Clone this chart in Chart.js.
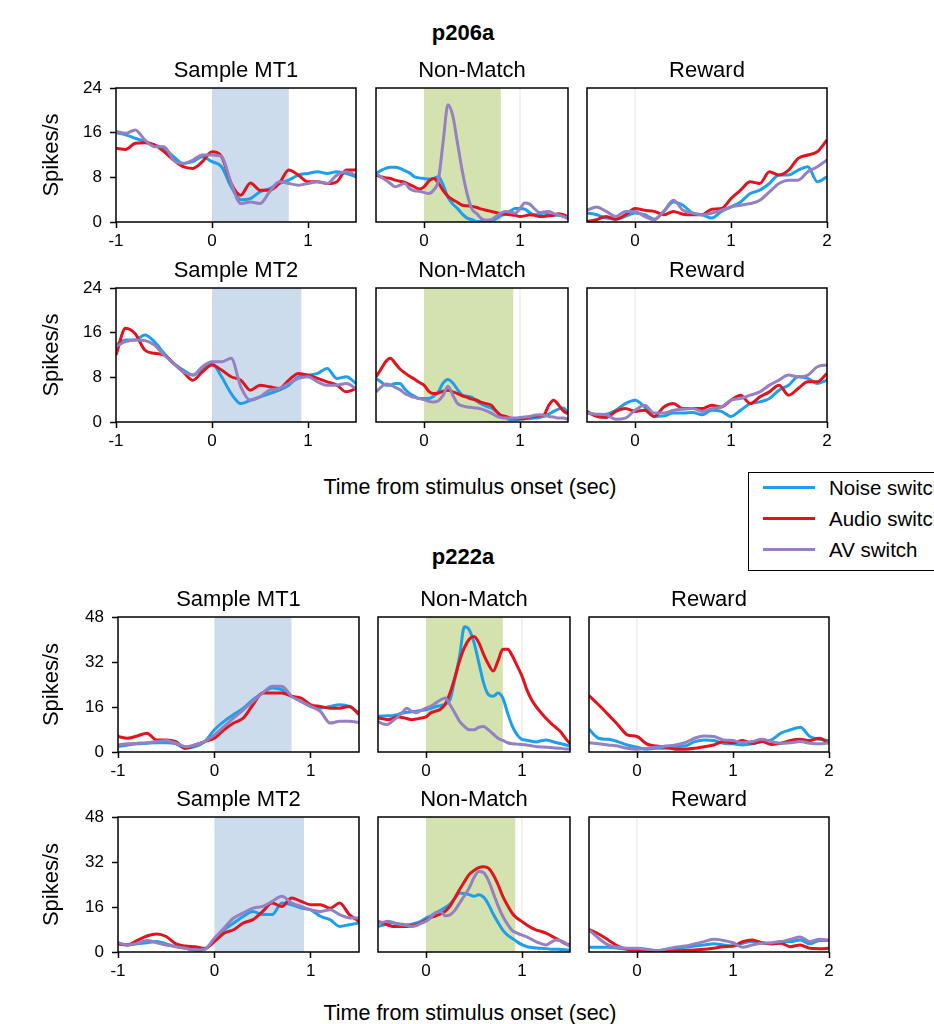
<!DOCTYPE html>
<html>
<head>
<meta charset="utf-8">
<script src="https://cdn.jsdelivr.net/npm/chart.js@4.4.1/dist/chart.umd.min.js"></script>
<style>
body { margin:0; width:934px; height:1024px; overflow:hidden; background:#fff; position:relative;
       font-family:"Liberation Sans", Arial, sans-serif; color:#000; }
canvas { position:absolute; }
.lbl { position:absolute; text-align:center; white-space:nowrap; }
.ptitle { font-size:22px; line-height:26px; width:240px; }
.group { font-size:22px; line-height:26px; font-weight:bold; width:200px; }
.xlab { font-size:21.5px; line-height:26px; width:500px; }
#legend { position:absolute; left:748px; top:472px; width:240px; height:97px; border:1.5px solid #000; background:#fff; }
#legend .row { position:absolute; left:0; height:26px; width:240px; }
#legend .sw { position:absolute; left:14px; top:11px; width:52px; height:3px; }
#legend .tx { position:absolute; left:80px; top:0; font-size:20.5px; line-height:26px; white-space:nowrap; }
</style>
</head>
<body>
<div class="lbl group" style="left:363px; top:20px;">p206a</div>
<div class="lbl group" style="left:363px; top:544px;">p222a</div>
<div class="lbl xlab" style="left:220px; top:474px;">Time from stimulus onset (sec)</div>
<div class="lbl xlab" style="left:220px; top:1000px;">Time from stimulus onset (sec)</div>
<div id="legend"></div>
<script>
// time axes
const xSample = [-1,-0.9,-0.8,-0.7,-0.6,-0.5,-0.4,-0.3,-0.2,-0.1,0,0.1,0.2,0.3,0.4,0.5,0.6,0.7,0.8,0.9,1,1.1,1.2,1.3,1.4,1.5];
const xNonMatch = [-0.5,-0.45,-0.4,-0.35,-0.3,-0.25,-0.2,-0.15,-0.1,-0.05,0,0.05,0.1,0.15,0.2,0.25,0.3,0.35,0.4,0.45,
                   0.5,0.55,0.6,0.65,0.7,0.75,0.8,0.85,0.9,0.95,1,1.05,1.1,1.15,1.2,1.25,1.3,1.35,1.4,1.45,1.5];
const xReward = [-0.5,-0.4,-0.3,-0.2,-0.1,0,0.1,0.2,0.3,0.4,0.5,0.6,0.7,0.8,0.9,1,1.1,1.2,1.3,1.4,1.5,1.6,1.7,1.8,1.9,2];

const yTicksTop = [0, 8, 16, 24];
const yTicksBottom = [0, 16, 32, 48];
const seriesNames = ['Noise switch', 'Audio switch', 'AV switch'];
const seriesColors = ['#1e9fea', '#e0141e', '#9480c2'];

// p206a
const p206_mt1_noise = [16.0,15.6,15.0,14.4,13.8,13.2,11.7,10.5,10.8,11.7,10.8,9.9,6.3,4.0,4.2,5.4,6.0,6.9,7.5,8.4,8.7,9.0,8.7,9.0,8.7,8.1];
const p206_mt1_audio = [13.2,13.0,14.1,14.2,13.8,12.6,11.1,9.9,9.6,10.8,12.6,11.7,6.9,4.8,7.0,5.7,5.7,6.9,9.3,8.4,7.2,7.2,6.9,7.2,9.3,9.3];
const p206_mt1_av    = [16.2,15.9,16.5,14.7,13.5,13.5,11.1,10.5,11.1,12.0,12.0,11.7,6.9,3.3,3.6,3.3,5.4,7.2,6.9,6.6,6.9,7.2,6.9,8.4,9.0,8.4];

const p206_nm1_noise = [8.7,9.2,9.6,9.8,9.8,9.6,9.2,8.8,8.1,7.9, 7.8,7.7,7.8,8.1,6.6,4.4,3.2,2.4,1.4,0.7,
                        0.4,0.1,0.1,0.1,0.2,0.6,1.1,1.4,2.0,2.4, 2.4,2.3,1.7,1.3,1.4,1.6,1.3,1.2,1.2,1.0, 0.6];
const p206_nm1_audio = [8.4,8.1,7.9,7.8,7.5,7.3,7.1,6.7,6.3,5.9, 6.3,7.3,7.8,7.0,5.6,4.6,4.0,3.5,3.0,2.9,
                        2.8,2.6,2.3,2.1,1.9,1.7,1.5,1.4,1.3,1.2, 1.0,1.1,1.3,1.2,1.0,1.0,1.1,1.2,1.5,1.3, 0.9];
const p206_nm1_av    = [8.7,8.1,7.5,6.9,6.3,6.6,6.9,6.0,5.6,5.5, 5.3,5.1,5.7,7.5,14.5,21.0,19.0,14.0,9.0,5.0,
                        2.3,1.5,0.6,0.3,0.4,1.0,1.6,1.9,1.8,1.6, 2.4,3.4,3.2,2.4,1.7,1.8,1.9,1.5,1.3,1.0, 0.7];

const p206_rw1_noise = [1.6,1.3,0.7,0.5,1.0,1.6,1.3,0.5,1.9,3.6,3.0,1.6,1.3,0.7,1.9,2.7,3.6,5.1,5.7,6.9,8.4,8.4,9.3,9.9,7.2,8.1];
const p206_rw1_audio = [0.1,0.4,1.0,0.5,1.3,2.4,2.1,1.9,1.3,1.9,1.4,1.3,1.3,2.3,2.4,4.2,5.7,7.2,6.9,9.0,8.4,9.3,11.4,12.0,12.6,14.7];
const p206_rw1_av    = [2.1,2.7,1.9,1.0,1.9,1.9,1.0,0.4,1.9,3.9,2.1,1.6,1.3,1.6,2.1,2.7,3.0,3.3,3.9,5.4,6.9,7.5,7.5,9.0,9.9,11.1];

const p206_mt2_noise = [13.8,14.7,14.7,15.6,14.4,12.3,10.5,9.3,8.4,9.6,10.5,8.1,5.1,3.3,3.9,4.5,5.1,5.7,6.6,8.1,8.4,8.7,9.6,7.8,8.1,6.9];
const p206_mt2_audio = [12.0,16.8,15.8,12.9,12.3,12.0,10.5,9.0,7.5,9.0,10.2,9.3,8.1,7.5,5.7,6.6,6.3,6.0,7.5,8.7,8.4,7.8,7.2,6.6,5.4,6.0];
const p206_mt2_av    = [13.5,14.4,14.7,14.6,13.8,12.0,10.5,9.0,8.4,9.9,10.8,10.8,11.4,6.3,3.9,4.5,5.7,6.0,6.9,7.8,8.1,7.2,6.6,6.6,6.9,6.0];

const p206_nm2_noise = [7.8,7.2,6.6,6.6,6.9,6.9,5.9,5.1,4.6,4.2, 4.2,4.2,4.6,5.4,7.0,7.6,7.0,5.8,4.8,4.6,
                        4.4,3.7,3.2,2.8,2.5,1.9,1.2,0.8,0.4,0.4, 0.5,0.6,0.6,0.7,0.8,1.0,1.4,1.9,2.3,2.5, 1.6];
const p206_nm2_audio = [8.1,9.4,10.8,11.4,10.5,9.5,8.8,8.2,7.7,7.1, 6.6,5.5,5.1,5.2,5.5,5.7,5.4,5.1,4.7,4.4,
                        4.1,3.9,3.5,3.3,3.0,2.0,1.2,1.0,0.7,0.6, 0.6,0.6,0.9,1.0,1.1,1.3,3.0,3.9,3.1,2.0, 1.5];
const p206_nm2_av    = [5.4,6.2,6.8,6.7,6.2,5.8,5.1,4.7,4.4,4.2, 4.0,3.7,3.6,3.8,4.8,6.4,4.8,3.3,2.9,2.7,
                        2.6,2.5,2.3,2.0,1.6,1.1,0.8,0.7,0.7,0.7, 0.8,0.9,1.0,1.2,1.3,1.2,1.0,0.9,0.7,0.7, 0.5];

const p206_rw2_noise = [1.6,1.3,1.4,2.1,3.3,3.9,2.7,1.0,1.1,1.6,1.6,1.7,1.3,2.1,1.9,1.0,2.1,3.3,3.6,4.2,5.7,6.6,8.1,7.8,6.9,7.5];
const p206_rw2_audio = [1.9,1.0,0.8,1.9,2.4,1.9,2.1,1.0,2.7,3.3,2.4,2.4,2.4,3.0,2.7,3.9,4.8,3.3,4.5,5.4,6.6,4.8,6.0,7.2,7.2,8.7];
const p206_rw2_av    = [1.6,1.4,1.3,0.5,0.7,2.1,3.0,1.6,1.6,2.1,2.3,2.4,1.9,2.4,2.7,3.9,4.2,4.8,5.4,6.6,7.5,8.4,8.1,8.4,9.9,10.2];

// p222a
const p222_mt1_noise = [1.9,2.5,2.9,3.1,3.3,3.3,2.9,1.3,1.9,3.7,7.9,10.9,13.3,15.6,18.6,21.0,22.8,22.2,19.8,18.0,16.2,15.6,16.2,16.8,16.2,13.9];
const p222_mt1_audio = [5.5,4.9,5.7,6.7,4.3,4.3,3.7,1.3,2.5,3.7,4.9,7.9,10.3,12.1,16.8,21.0,21.0,21.0,19.8,19.2,16.8,16.2,15.6,15.6,16.2,13.3];
const p222_mt1_av    = [2.5,2.9,3.1,3.3,3.7,4.1,3.1,1.9,2.5,3.7,6.1,9.1,12.1,15.0,18.0,21.0,23.4,23.4,19.8,18.0,16.2,14.4,10.3,10.9,10.9,10.5];

const p222_nm1_noise = [12.7,12.8,12.9,12.9,13.3,13.8,14.1,14.3,14.5,14.8, 15.0,15.5,16.1,16.5,17.0,18.6,25.8,34.1,44.5,43.5,
                        38.9,31.8,24.6,20.4,19.8,21.0,19.2,13.9,9.1,6.1, 4.5,4.2,3.8,3.6,4.0,4.3,3.9,3.4,3.0,2.6, 2.1];
const p222_nm1_audio = [12.1,11.8,11.5,11.8,12.5,12.3,11.9,11.5,11.7,12.1, 12.5,13.9,14.5,15.2,17.0,21.0,26.4,32.4,37.1,40.1,
                        41.1,38.9,34.7,31.2,28.8,32.4,36.5,36.5,34.1,30.6, 27.0,22.2,18.6,16.0,13.9,12.0,10.3,8.8,7.3,5.0, 2.9];
const p222_nm1_av    = [10.9,10.0,9.8,11.0,12.3,14.0,15.6,14.5,14.0,14.8, 15.6,16.3,17.4,18.5,19.2,16.8,13.9,10.9,9.1,7.9,
                        7.9,8.8,9.1,7.9,6.4,4.9,4.1,3.3,2.9,2.8, 2.7,2.5,2.2,1.9,1.8,1.7,1.6,1.4,1.3,1.1, 1.0];

const p222_rw1_noise = [8.1,4.9,4.5,3.7,2.5,1.7,1.0,1.3,1.3,1.9,2.1,3.7,4.3,4.1,3.1,2.9,2.5,2.9,3.7,4.3,6.7,7.9,8.8,5.5,4.5,4.1];
const p222_rw1_audio = [20.1,16.8,13.3,9.7,6.1,5.5,2.9,2.1,1.7,1.0,1.0,1.3,1.9,2.5,3.7,3.3,4.1,3.1,3.7,2.7,3.1,4.1,4.5,4.1,4.9,3.1];
const p222_rw1_av    = [3.3,2.9,2.5,2.1,1.3,1.0,1.3,1.7,2.1,2.5,3.3,4.9,5.7,5.5,4.3,4.1,3.3,3.7,4.5,3.7,3.1,3.3,3.7,3.1,2.9,3.3];

const p222_mt2_noise = [2.9,2.5,2.9,3.3,3.7,2.9,1.9,1.3,0.7,1.0,4.3,7.9,10.3,12.7,14.4,13.3,13.3,17.4,16.8,15.6,15.0,12.7,11.5,9.1,9.7,10.3];
const p222_mt2_audio = [2.9,2.5,4.1,5.7,6.4,5.5,2.9,2.1,1.9,1.3,3.7,6.7,7.9,10.3,11.5,14.4,17.4,16.2,19.2,18.0,16.8,16.8,15.6,17.4,13.3,10.9];
const p222_mt2_av    = [3.3,2.5,3.1,4.1,3.3,2.5,1.9,1.3,0.7,1.0,4.9,8.5,12.1,13.9,15.6,16.2,18.0,19.8,17.4,16.2,15.0,14.4,15.0,13.3,12.1,12.1];

const p222_nm2_noise = [9.1,9.5,10.0,10.3,10.1,9.9,9.7,9.9,10.3,11.0, 12.1,12.8,13.9,14.8,15.8,17.0,19.0,21.0,20.8,20.4,
                        19.8,20.4,19.5,17.0,13.5,10.5,7.8,6.0,4.8,3.6, 2.6,1.9,1.6,1.4,1.3,1.2,1.0,1.0,0.9,0.8, 0.7];
const p222_nm2_audio = [10.9,10.3,9.6,9.1,9.1,9.1,9.1,9.3,9.7,10.4, 11.3,12.2,12.8,13.5,14.5,16.3,19.2,22.2,25.0,27.6,
                        29.0,30.0,30.3,29.8,27.5,24.0,19.8,16.5,13.7,12.0, 10.8,9.6,8.6,7.8,7.3,6.7,5.8,4.9,4.0,3.0, 2.5];
const p222_nm2_av    = [10.3,10.6,10.9,10.6,10.0,9.7,9.4,9.1,9.4,10.2, 10.9,12.3,13.9,14.4,12.9,13.2,14.8,17.4,20.0,22.8,
                        26.5,28.6,28.2,25.5,21.0,16.5,12.7,9.8,7.6,6.7, 6.0,5.4,4.5,3.6,3.0,2.5,3.4,4.3,4.0,3.2, 1.9];

const p222_rw2_noise = [1.7,1.7,1.7,1.3,1.0,1.0,0.7,0.5,0.7,1.0,1.7,2.1,2.5,2.9,2.5,2.1,3.1,3.7,3.3,2.9,3.7,3.7,4.3,2.9,4.1,4.1];
const p222_rw2_audio = [8.1,6.4,4.3,2.1,1.0,0.7,0.5,0.2,0.2,0.4,0.5,0.7,1.0,1.3,1.9,2.1,3.7,4.3,3.3,2.9,3.1,1.9,2.5,1.3,1.2,1.3];
const p222_rw2_av    = [7.9,4.9,2.5,1.7,1.3,1.3,1.0,0.5,1.0,1.7,2.1,2.9,3.7,4.5,4.1,3.3,1.7,2.5,3.1,3.3,3.7,4.5,5.3,3.7,4.5,4.3];

// stimulus windows (sec)
const windowShort = 0.8;
const windowLong = 0.93;

Chart.defaults.font.family = '"Liberation Sans", Arial, sans-serif';
Chart.defaults.color = '#000';

const kinds = {
  sample:   { xs: xSample,   min: -1,   max: 1.5, xticks: [-1, 0, 1],   yAxis: true,  bandColor: '#ccdcec', guide: null },
  nonmatch: { xs: xNonMatch, min: -0.5, max: 1.5, xticks: [0, 1],       yAxis: false, bandColor: '#d4e2b0', guide: 1 },
  reward:   { xs: xReward,   min: -0.5, max: 2,   xticks: [0, 1, 2],    yAxis: false, bandColor: null,      guide: 0 }
};

const panels = [
  { kind:'sample',   title:'Sample MT1', left:116, top:88,  w:240, h:134, ymax:24, yticks:yTicksTop, band:windowShort, series:[p206_mt1_noise, p206_mt1_audio, p206_mt1_av] },
  { kind:'nonmatch', title:'Non-Match',  left:376, top:88,  w:192, h:134, ymax:24, yticks:yTicksTop, band:windowShort, series:[p206_nm1_noise, p206_nm1_audio, p206_nm1_av] },
  { kind:'reward',   title:'Reward',     left:587, top:88,  w:240, h:134, ymax:24, yticks:yTicksTop, band:null,        series:[p206_rw1_noise, p206_rw1_audio, p206_rw1_av] },
  { kind:'sample',   title:'Sample MT2', left:116, top:288, w:240, h:134, ymax:24, yticks:yTicksTop, band:windowLong,  series:[p206_mt2_noise, p206_mt2_audio, p206_mt2_av] },
  { kind:'nonmatch', title:'Non-Match',  left:376, top:288, w:192, h:134, ymax:24, yticks:yTicksTop, band:windowLong,  series:[p206_nm2_noise, p206_nm2_audio, p206_nm2_av] },
  { kind:'reward',   title:'Reward',     left:587, top:288, w:240, h:134, ymax:24, yticks:yTicksTop, band:null,        series:[p206_rw2_noise, p206_rw2_audio, p206_rw2_av] },
  { kind:'sample',   title:'Sample MT1', left:118, top:617, w:241, h:135, ymax:48, yticks:yTicksBottom, band:windowShort, series:[p222_mt1_noise, p222_mt1_audio, p222_mt1_av] },
  { kind:'nonmatch', title:'Non-Match',  left:378, top:617, w:192, h:135, ymax:48, yticks:yTicksBottom, band:windowShort, series:[p222_nm1_noise, p222_nm1_audio, p222_nm1_av] },
  { kind:'reward',   title:'Reward',     left:589, top:617, w:240, h:135, ymax:48, yticks:yTicksBottom, band:null,        series:[p222_rw1_noise, p222_rw1_audio, p222_rw1_av] },
  { kind:'sample',   title:'Sample MT2', left:118, top:817, w:241, h:135, ymax:48, yticks:yTicksBottom, band:windowLong,  series:[p222_mt2_noise, p222_mt2_audio, p222_mt2_av] },
  { kind:'nonmatch', title:'Non-Match',  left:378, top:817, w:192, h:135, ymax:48, yticks:yTicksBottom, band:windowLong,  series:[p222_nm2_noise, p222_nm2_audio, p222_nm2_av] },
  { kind:'reward',   title:'Reward',     left:589, top:817, w:240, h:135, ymax:48, yticks:yTicksBottom, band:null,        series:[p222_rw2_noise, p222_rw2_audio, p222_rw2_av] }
];

// shading, guide line and box around each plot
const panelDeco = {
  id: 'panelDeco',
  beforeDatasetsDraw(chart, args, opts) {
    const {ctx, chartArea: a, scales: {x}} = chart;
    ctx.save();
    if (opts.band != null && opts.bandColor) {
      const x0 = x.getPixelForValue(0), x1 = x.getPixelForValue(opts.band);
      ctx.fillStyle = opts.bandColor;
      ctx.fillRect(x0, a.top, x1 - x0, a.height);
    }
    if (opts.guide != null) {
      const gx = x.getPixelForValue(opts.guide);
      ctx.strokeStyle = '#ececec';
      ctx.lineWidth = 1.5;
      ctx.beginPath();
      ctx.moveTo(gx, a.top);
      ctx.lineTo(gx, a.bottom);
      ctx.stroke();
    }
    ctx.restore();
  },
  afterDatasetsDraw(chart) {
    const {ctx, chartArea: a} = chart;
    ctx.save();
    ctx.strokeStyle = '#000';
    ctx.lineWidth = 1.5;
    ctx.strokeRect(a.left, a.top, a.width, a.height);
    ctx.restore();
  }
};

const PAD_TOP = 24, PAD_RIGHT = 12, X_AXIS_H = 32;

panels.forEach(p => {
  const k = kinds[p.kind];
  const leftSpace = k.yAxis ? p.left - 30 : 12;
  const canvas = document.createElement('canvas');
  canvas.width = leftSpace + p.w + PAD_RIGHT;
  canvas.height = PAD_TOP + p.h + X_AXIS_H;
  canvas.style.left = (p.left - leftSpace) + 'px';
  canvas.style.top = (p.top - PAD_TOP) + 'px';
  document.body.appendChild(canvas);

  const t = document.createElement('div');
  t.className = 'lbl ptitle';
  t.textContent = p.title;
  t.style.left = (p.left + p.w / 2 - 120) + 'px';
  t.style.top = (p.top - 31) + 'px';
  document.body.appendChild(t);

  const datasets = p.series.map((ys, i) => ({
    label: seriesNames[i],
    data: k.xs.map((xv, j) => ({ x: xv, y: ys[j] })),
    borderColor: seriesColors[i],
    borderWidth: 3,
    pointRadius: 0,
    fill: false,
    cubicInterpolationMode: 'monotone',
    order: 2 - i
  }));

  const tickGrid = { display: true, drawOnChartArea: false, drawTicks: true, tickLength: 6, tickColor: '#000', tickWidth: 1.5 };

  new Chart(canvas, {
    type: 'line',
    data: { datasets },
    options: {
      responsive: false,
      animation: false,
      devicePixelRatio: 1,
      events: [],
      layout: { padding: { top: PAD_TOP, right: PAD_RIGHT, bottom: 0, left: k.yAxis ? 0 : leftSpace } },
      scales: {
        x: {
          type: 'linear', min: k.min, max: k.max,
          afterBuildTicks: s => { s.ticks = k.xticks.map(v => ({ value: v })); },
          afterFit: s => { s.height = X_AXIS_H; },
          ticks: { font: { size: 17 }, padding: 3, maxRotation: 0, autoSkip: false, callback: v => String(v) },
          grid: tickGrid,
          border: { display: false }
        },
        y: {
          display: k.yAxis, min: 0, max: p.ymax,
          afterBuildTicks: s => { s.ticks = p.yticks.map(v => ({ value: v })); },
          afterFit: s => { s.width = k.yAxis ? leftSpace : 0; },
          ticks: { font: { size: 17 }, padding: 8 },
          grid: tickGrid,
          border: { display: false },
          title: { display: true, text: 'Spikes/s', font: { size: 22 }, padding: { top: 9, bottom: 0 } }
        }
      },
      plugins: {
        legend: { display: false },
        tooltip: { enabled: false },
        panelDeco: { band: p.band, bandColor: k.bandColor, guide: k.guide }
      }
    },
    plugins: [panelDeco]
  });
});

// legend box
const legend = document.getElementById('legend');
seriesNames.forEach((name, i) => {
  const row = document.createElement('div');
  row.className = 'row';
  row.style.top = (2 + i * 31) + 'px';
  row.innerHTML = '<div class="sw" style="background:' + seriesColors[i] + '"></div><div class="tx">' + name + '</div>';
  legend.appendChild(row);
});
</script>
</body>
</html>
